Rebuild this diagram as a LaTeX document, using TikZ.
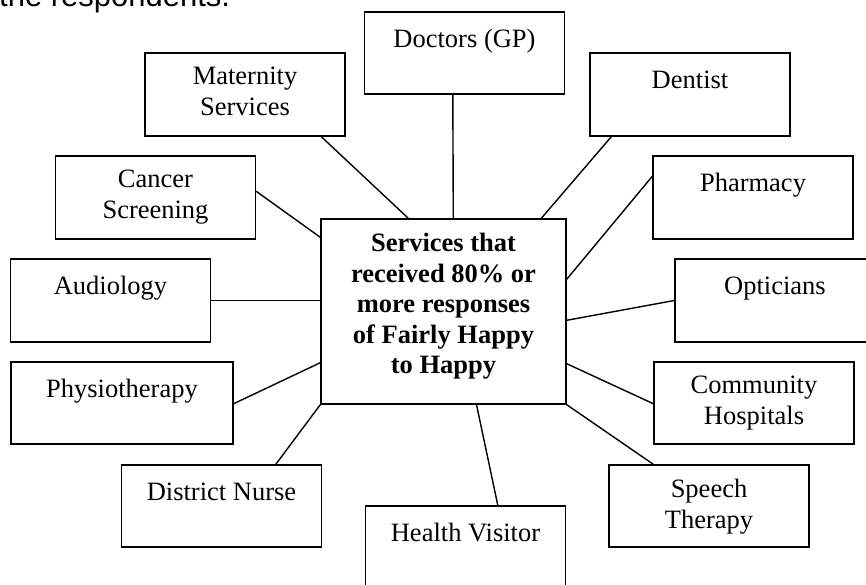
\documentclass[tikz,border=0pt]{standalone}
\usepackage{fontspec}
\setmainfont{Liberation Serif}
\newfontfamily\introfont{Liberation Sans}
\usepackage{tikz}

\begin{document}
\begin{tikzpicture}[x=1pt,y=-1pt]
            \tikzstyle{every node}+=[inner sep=0pt]
            \tikzstyle{svcbox}=[draw=black,line width=1.4pt,minimum width=200pt,minimum height=82pt]
            \tikzstyle{svctext}=[anchor=north,align=center,font=\fontsize{26.5}{30.5}\selectfont,execute at begin node=\strut]
            \tikzstyle{link}=[draw=black,line width=1.4pt]
            \useasboundingbox (0,0) rectangle (866,585);
            \node [anchor=base west,font=\introfont\fontsize{31}{36}\selectfont] (intro) at (-1,7) {the respondents.};
            \node [svcbox,minimum width=245pt,minimum height=185pt] (ctr) at (443.5,311.5) {};
            \node [svctext,font=\fontsize{26.5}{30.5}\selectfont\bfseries] (ctrtext) at ([yshift=-14.65pt]ctr.north) {Services that\\received 80\% or\\more responses\\of Fairly Happy\\to Happy};
            \node [svcbox] (doc) at (464.5,53) {};
            \node [svctext] (doctext) at ([yshift=-14.65pt]doc.north) {Doctors (GP)};
            \node [svcbox,minimum height=83pt] (mat) at (245,94.5) {};
            \node [svctext] (mattext) at ([yshift=-14.65pt]mat.north) {Maternity\\Services};
            \node [svcbox,minimum height=83pt] (den) at (690,94.5) {};
            \node [svctext] (dentext) at ([yshift=-14.65pt]den.north) {Dentist};
            \node [svcbox,minimum height=83pt] (can) at (155.5,197.5) {};
            \node [svctext] (cantext) at ([yshift=-14.65pt]can.north) {Cancer\\Screening};
            \node [svcbox,minimum height=83pt] (pha) at (753,197.5) {};
            \node [svctext] (phatext) at ([yshift=-14.65pt]pha.north) {Pharmacy};
            \node [svcbox,minimum height=83pt] (aud) at (110.5,300.5) {};
            \node [svctext] (audtext) at ([yshift=-14.65pt]aud.north) {Audiology};
            \node [svcbox,minimum height=83pt] (opt) at (775,300.5) {};
            \node [svctext] (opttext) at ([yshift=-14.65pt]opt.north) {Opticians};
            \node [svcbox,minimum width=222pt] (phy) at (122,403) {};
            \node [svctext] (phytext) at ([yshift=-14.65pt]phy.north) {Physiotherapy};
            \node [svcbox] (com) at (754,403) {};
            \node [svctext] (comtext) at ([yshift=-14.65pt]com.north) {Community\\Hospitals};
            \node [svcbox] (dis) at (221.5,506) {};
            \node [svctext] (distext) at ([yshift=-14.65pt]dis.north) {District Nurse};
            \node [svcbox] (spe) at (709,506) {};
            \node [svctext] (spetext) at ([yshift=-14.65pt]spe.north) {Speech\\Therapy};
            \node [svcbox] (hea) at (465.5,547) {};
            \node [svctext] (heatext) at ([yshift=-14.65pt]hea.north) {Health Visitor};
            \draw [link] ([xshift=177pt]mat.south west) -- ([xshift=88pt]ctr.north west);
            \draw [link] ([xshift=89pt]doc.south west) -- ([xshift=133pt]ctr.north west);
            \draw [link] ([xshift=22pt]den.south west) -- ([xshift=221pt]ctr.north west);
            \draw [link] ([yshift=-21pt]pha.north west) -- ([yshift=-61pt]ctr.north east);
            \draw [link] ([yshift=-36pt]can.north east) -- ([yshift=-19pt]ctr.north west);
            \draw [link] (aud.east) -- (aud.east -| ctr.west);
            \draw [link] (opt.west) -- ([yshift=-102pt]ctr.north east);
            \draw [link] ([yshift=41pt]phy.south east) -- ([yshift=42pt]ctr.south west);
            \draw [link] ([yshift=41pt]ctr.south east) -- ([yshift=41pt]com.south west);
            \draw [link] (ctr.south west) -- ([xshift=155pt]dis.north west);
            \draw [link] (ctr.south east) -- ([xshift=45pt]spe.north west);
            \draw [link] ([xshift=156pt,yshift=1pt]ctr.south west) -- ([xshift=133pt]hea.north west);
\end{tikzpicture}
\end{document}
